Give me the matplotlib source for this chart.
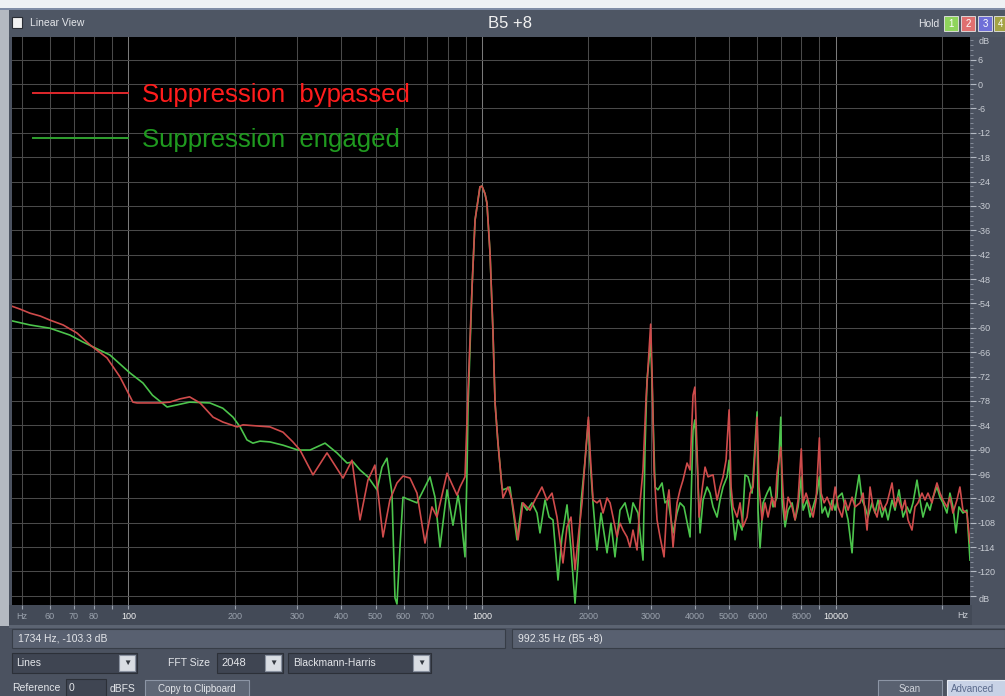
import matplotlib
matplotlib.use("Agg")
import matplotlib.pyplot as plt
from matplotlib.patches import Rectangle
from matplotlib.lines import Line2D
from matplotlib.ticker import FixedLocator

plt.rcParams['font.family'] = ['Liberation Sans', 'DejaVu Sans']

# ---------------- spectrum data (Hz, dB) ----------------
red_freq = [46.9, 49.4, 52.7, 56.3, 60.0, 65.4, 71.6, 77.9, 87.0, 94.7, 103, 105.8, 115, 123, 131,
            140, 149, 159.5, 173.6, 185, 203, 211, 235.6, 251.5, 273.8, 292, 305.8, 332.8, 364.6,
            404.7, 429, 452, 476, 498, 525, 549, 575, 598, 626, 655, 690, 722, 746, 796.5, 850,
            866.7, 895.5, 913, 937.5, 956, 987, 1000, 1020, 1033, 1054, 1074, 1089, 1110, 1139,
            1146.5, 1184.5, 1216, 1264.5, 1306, 1367, 1413, 1478, 1527, 1578, 1630, 1695, 1740,
            1786, 1833, 1881, 1919, 1957, 2000, 2021, 2061, 2115, 2157, 2200, 2258, 2303, 2348,
            2409, 2457, 2506, 2572, 2622, 2674, 2745, 2799, 2854, 2910, 3000, 3026, 3067, 3127,
            3189, 3273, 3338, 3380, 3471, 3562, 3632, 3703, 3802, 3877, 3953, 4000, 4058, 4111,
            4192, 4275, 4359, 4503, 4622, 4713, 4806, 4901, 5000, 5064, 5130, 5265, 5369, 5475,
            5620, 5731, 5844, 6000, 6076, 6196, 6318, 6443, 6613, 6744, 6832, 7000, 7105, 7198,
            7340, 7534, 7683, 7834, 8000, 8094, 8253, 8471, 8638, 8809, 9000, 9101, 9281, 9464,
            9777, 9970, 10164, 10432, 10638, 10848, 11134, 11354, 11730, 11961, 12276, 12518,
            12765, 13101, 13358, 13621, 13981, 14444, 14728, 15018, 15414, 15717, 16027, 16450,
            16774, 17104, 17555, 17901, 18254, 18735, 19104, 19354, 19736, 20126, 20654, 21061,
            21476, 22042, 22475, 22918, 23521, 24000]
red_db = [-54.7, -55.4, -56.4, -57.1, -58.1, -59.3, -61.3, -64.2, -67.4, -72.1, -78.3, -78.5, -78.5,
          -78.5, -78.3, -77.5, -77.0, -78.5, -82.0, -83.2, -84.4, -83.9, -84.2, -84.4, -85.7, -88.1,
          -90.1, -96.2, -90.8, -97.0, -92.6, -107.3, -97.5, -93.8, -111.5, -102.4, -98.2, -96.5,
          -97.0, -100.7, -113.0, -104.1, -106.6, -95.8, -101.2, -99.2, -96.7, -76.0, -50.0, -33.5,
          -25.3, -25.1, -27.0, -29.3, -41.6, -60.6, -78.5, -88.4, -99.2, -101.9, -99.2, -102.4,
          -112.2, -103.1, -104.9, -102.4, -99.2, -102.4, -100.7, -106.6, -117.9, -109.0, -106.6,
          -119.6, -109.8, -103.1, -92.6, -82.0, -90.1, -102.4, -103.1, -102.4, -105.6, -101.9,
          -103.1, -106.6, -111.5, -108.1, -109.8, -111.5, -114.0, -109.8, -114.7, -103.1, -95.0,
          -77.8, -59.1, -70.4, -95.0, -107.3, -111.5, -116.4, -103.1, -99.9, -114.0, -103.1, -99.9,
          -97.5, -93.3, -95.0, -76.6, -74.6, -90.1, -106.6, -99.9, -94.3, -96.7, -96.2, -102.4,
          -99.2, -96.7, -92.6, -80.2, -99.2, -104.1, -106.6, -103.1, -109.0, -106.6, -100.7, -99.2,
          -82.0, -99.2, -107.3, -103.1, -106.6, -101.7, -104.1, -95.8, -89.4, -100.7, -107.3,
          -101.7, -104.1, -107.3, -102.4, -89.8, -103.1, -100.7, -104.1, -106.6, -102.4, -87.1,
          -100.7, -103.1, -101.7, -104.9, -99.2, -104.1, -106.6, -102.4, -104.9, -101.7, -104.1,
          -103.1, -100.7, -109.8, -99.2, -104.1, -106.6, -102.4, -104.9, -103.1, -98.2, -104.1,
          -101.7, -104.9, -102.4, -107.3, -109.8, -104.1, -103.1, -100.7, -102.4, -100.7, -103.1,
          -99.9, -98.2, -100.7, -102.4, -104.1, -101.7, -105.6, -102.4, -99.2, -104.9, -105.6,
          -113.0]

green_freq = [46.9, 52.7, 60.0, 68.4, 74.4, 88.7, 101, 110, 117, 128.7, 137, 149, 170, 185, 197.7,
              207, 216.5, 225, 235.6, 251.5, 273.8, 301.8, 326.4, 360, 389, 415.4, 431.9, 452, 476,
              505, 521.6, 538.7, 556.5, 567.6, 575, 586.4, 598, 626, 655, 713, 736.5, 761, 796.5,
              828, 855.6, 866.7, 884, 895.5, 907.5, 913, 937.5, 956, 987, 1000, 1020, 1033, 1054,
              1074, 1089, 1110, 1139, 1146.5, 1200, 1256, 1298, 1341, 1385, 1431, 1459, 1508, 1548,
              1588, 1641, 1684, 1740, 1786, 1833, 1869, 1906, 1957, 2000, 2021, 2061, 2115, 2171,
              2258, 2317, 2378, 2457, 2539, 2622, 2674, 2762, 2854, 2891, 2929, 3000, 3026, 3087,
              3147, 3231, 3294, 3360, 3471, 3562, 3632, 3727, 3877, 3953, 4000, 4058, 4138, 4220,
              4331, 4416, 4503, 4622, 4713, 4806, 4933, 5000, 5064, 5197, 5300, 5440, 5547, 5656,
              5806, 5882, 6000, 6037, 6116, 6237, 6401, 6527, 6656, 6832, 7000, 7058, 7198, 7340,
              7534, 7683, 7834, 8000, 8094, 8307, 8471, 8638, 8867, 9000, 9160, 9341, 9526, 9777,
              9970, 10164, 10432, 10638, 10848, 11134, 11354, 11654, 11884, 12118, 12356, 12682,
              12931, 13186, 13533, 13800, 14072, 14444, 14728, 15116, 15515, 15923, 16237, 16557,
              16994, 17328, 17670, 18136, 18493, 18857, 19354, 19736, 20126, 20654, 21061, 21476,
              21899, 22330, 22918, 23521, 24000]
green_db = [-58.3, -59.3, -60.1, -61.8, -63.5, -66.7, -71.1, -73.6, -76.6, -79.5, -79.0, -78.3, -78.5,
            -79.8, -82.0, -84.4, -87.6, -88.4, -87.9, -88.1, -88.9, -90.1, -90.1, -88.4, -90.8,
            -93.3, -93.0, -95.0, -96.7, -99.9, -94.3, -92.1, -100.7, -126.5, -128.0, -114.0,
            -101.7, -102.4, -103.1, -96.7, -101.7, -114.0, -99.9, -108.6, -101.2, -104.1, -111.5,
            -116.4, -95.0, -80.0, -50.0, -33.5, -25.3, -25.1, -27.0, -29.3, -41.6, -60.6, -78.5,
            -88.4, -99.2, -99.9, -99.2, -112.2, -103.1, -104.9, -103.1, -105.6, -110.5, -102.4,
            -106.6, -107.3, -122.1, -111.5, -103.6, -114.7, -127.8, -117.9, -103.1, -92.6, -82.7,
            -92.6, -103.1, -114.7, -105.6, -115.4, -108.1, -116.4, -104.9, -103.1, -108.1, -103.1,
            -105.6, -117.2, -90.1, -72.9, -63.8, -72.9, -99.2, -99.9, -98.2, -103.1, -102.4, -110.5,
            -105.6, -103.1, -104.1, -111.5, -85.2, -82.7, -92.6, -110.5, -102.4, -99.2, -100.7,
            -104.1, -106.6, -102.4, -99.2, -96.7, -92.6, -102.4, -112.2, -107.3, -109.8, -96.2,
            -96.7, -100.7, -92.6, -80.7, -104.9, -114.2, -103.1, -100.7, -99.2, -104.1, -101.7,
            -82.0, -102.4, -109.0, -104.9, -103.1, -107.3, -104.1, -96.7, -104.9, -102.4, -106.6,
            -104.1, -100.7, -96.7, -105.6, -104.1, -106.6, -102.4, -104.9, -101.7, -100.7, -104.1,
            -107.3, -115.4, -102.4, -96.2, -102.4, -104.1, -106.6, -103.1, -105.6, -102.4, -106.6,
            -104.1, -107.3, -102.4, -104.9, -99.9, -106.6, -104.1, -105.6, -103.1, -97.5, -102.4,
            -106.6, -103.1, -104.9, -101.7, -99.2, -101.7, -103.1, -105.6, -100.7, -104.1, -110.5,
            -104.1, -105.6, -104.9, -117.2]

series_labels = ['Suppression  bypassed', 'Suppression  engaged']

freq_ticks = [50, 60, 70, 80, 90, 100, 200, 300, 400, 500, 600, 700, 800, 900, 1000,
              2000, 3000, 4000, 5000, 6000, 7000, 8000, 9000, 10000, 20000]
freq_tick_labels = ['Hz', '60', '70', '80', '', '100', '200', '300', '400', '500', '600', '700',
                    '', '', '1000', '2000', '3000', '4000', '5000', '6000', '', '8000', '',
                    '10000', '']
db_ticks = [-126, -120, -114, -108, -102, -96, -90, -84, -78, -72, -66, -60, -54, -48, -42,
            -36, -30, -24, -18, -12, -6, 0, 6]
db_tick_labels = [''] + [str(v) for v in db_ticks[1:]]

# ---------------- figure & window chrome ----------------
W, H = 1005, 696
PANEL = '#4b5260'
fig = plt.figure(figsize=(W / 100, H / 100), dpi=100, facecolor=PANEL)


def frac(x0, y0, x1, y1):
    return [x0 / W, 1 - y1 / H, (x1 - x0) / W, (y1 - y0) / H]


ui = fig.add_axes([0, 0, 1, 1])
ui.set_xlim(0, W)
ui.set_ylim(H, 0)
ui.axis('off')


def box(x0, y0, x1, y1, fc, ec='none', lw=0.8):
    ui.add_patch(Rectangle((x0, y0), x1 - x0, y1 - y0, facecolor=fc,
                           edgecolor=ec, linewidth=lw))


def label(x, y, s, size=7.5, color='#e4e6ea', ha='left', **kw):
    ui.text(x, y, s, fontsize=size, color=color, ha=ha, va='center', **kw)


def arrow_button(x0, y0):
    box(x0, y0, x0 + 16, y0 + 16, '#d9dde3', '#8a92a0')
    label(x0 + 8, y0 + 8.5, '\u25bc', size=6, color='#333840', ha='center')


# window top strip and title bar
box(0, 0, W, 8, '#eef1f5')
box(0, 8, W, 9.5, '#7f8ca6')
box(0, 9.5, W, 37, '#4e5664')
box(12, 17, 22, 28, '#f2f2f2', '#2a2e35')
label(30, 23, 'Linear View', size=7.5)
label(510, 23, 'B5 +8', size=12, color='#f2f2f2', ha='center')
label(939, 24, 'Hold', size=7.5, ha='right')
for x0, c, t in [(944, '#8fd45c', '1'), (961, '#e07070', '2'),
                 (978, '#6f6fd8', '3'), (994, '#a4a444', '4')]:
    box(x0, 16, x0 + 14, 31, c, '#e8e8e8', 0.6)
    label(x0 + 7, 24, t, size=7, color='white', ha='center')

# left frame strip
box(0, 9.5, 9, 626, '#b4b9c1')

# frequency label row and status fields
box(9, 605, 972, 625, '#434a57')
box(9, 625, W, 628, '#5c6472')
box(12, 629, 505, 648, '#586070', '#373d47')
label(18, 638.5, '1734 Hz, -103.3 dB', size=7.5)
box(512, 629, W, 648, '#586070', '#373d47')
label(518, 638.5, '992.35 Hz (B5 +8)', size=7.5)

# control row
box(12, 653, 137, 673, '#3f4552', '#2c3038')
label(16, 663.5, 'Lines', size=7.5)
arrow_button(119, 655)
label(168, 663, 'FFT Size', size=7.5)
box(217, 653, 283, 673, '#3f4552', '#2c3038')
label(221, 663.5, '2048', size=8)
arrow_button(265, 655)
box(288, 653, 431, 673, '#3f4552', '#2c3038')
label(293, 663.5, 'Blackmann-Harris', size=7.5)
arrow_button(413, 655)

# reference row and buttons
label(12, 688, 'Reference', size=7.5)
box(66, 679, 106, 697, '#3f4552', '#2c3038')
label(69, 688, '0', size=7.5)
label(110, 689, 'dBFS', size=7.5)
box(145, 680, 249, 697, '#5f6776', '#8c95a5')
label(197, 689, 'Copy to Clipboard', size=7, ha='center')
box(878, 680, 942, 697, '#596170', '#8c95a5')
label(910, 689, 'Scan', size=7, ha='center', color='#cfd3da')
box(947, 680, W + 2, 697, '#c8d2e6', '#e8ecf4')
label(951, 689, 'Advanced', size=7, color='#5a6a8c')

# ---------------- spectrum plot ----------------
ax = fig.add_axes(frac(12, 37, 970, 605))
ax.set_facecolor('black')
ax.set_xscale('log')
ax.set_xlim(46.875, 24000)
ax.set_ylim(-128.25, 11.6)
for sp in ax.spines.values():
    sp.set_visible(False)

ax.xaxis.set_major_locator(FixedLocator(freq_ticks))
ax.set_xticklabels(freq_tick_labels)
ax.xaxis.set_minor_locator(FixedLocator([]))
ax.yaxis.tick_right()
ax.set_yticks(db_ticks)
ax.set_yticklabels(db_tick_labels)
ax.yaxis.set_minor_locator(FixedLocator([v / 10 for v in range(-1260, 120, 12)]))

ax.grid(True, which='major', color='#4a4a4a', linewidth=0.75)
for t in ax.xaxis.get_major_ticks():
    if t.get_loc() in (100, 1000, 10000):
        t.gridline.set_color('#7a7a7a')

ax.tick_params(axis='x', which='major', direction='out', length=3, width=0.8,
               color='#9aa2ae', labelsize=6.5, pad=2)
ax.tick_params(axis='y', which='major', direction='out', length=4, width=0.8,
               color='#b4bac4', labelcolor='#c9cdd4', labelsize=6.5, pad=1.5)
ax.tick_params(axis='y', which='minor', direction='out', length=2, width=0.6,
               color='#8e96a2')
for lbl in ax.get_xticklabels():
    bright = lbl.get_text() in ('100', '1000', '10000')
    lbl.set_color('#f0f0f0' if bright else '#9ba3ae')

label(963, 615, 'Hz', size=6.5, color='#c9cdd4', ha='center')
label(979, 41, 'dB', size=6.5, color='#c9cdd4')
label(979, 600, 'dB', size=6.5, color='#c9cdd4')

ax.plot(green_freq, green_db, color='#4cc44c', linewidth=1.2, zorder=3)
ax.plot(red_freq, red_db, color='#cf4b4b', linewidth=1.2, zorder=4)

handles = [Line2D([], [], color='#e0282c', linewidth=1.4),
           Line2D([], [], color='#30a030', linewidth=1.4)]
leg = ax.legend(handles, series_labels, loc='upper left', bbox_to_anchor=(0.0219, 0.919),
                frameon=False, fontsize=18.5, handlelength=3.7, handletextpad=0.55,
                labelspacing=0.82, borderpad=0, borderaxespad=0)
for txt, c in zip(leg.get_texts(), ['#ff1c1c', '#1f9a1f']):
    txt.set_color(c)

fig.savefig('out.png', dpi=100, facecolor=fig.get_facecolor())
